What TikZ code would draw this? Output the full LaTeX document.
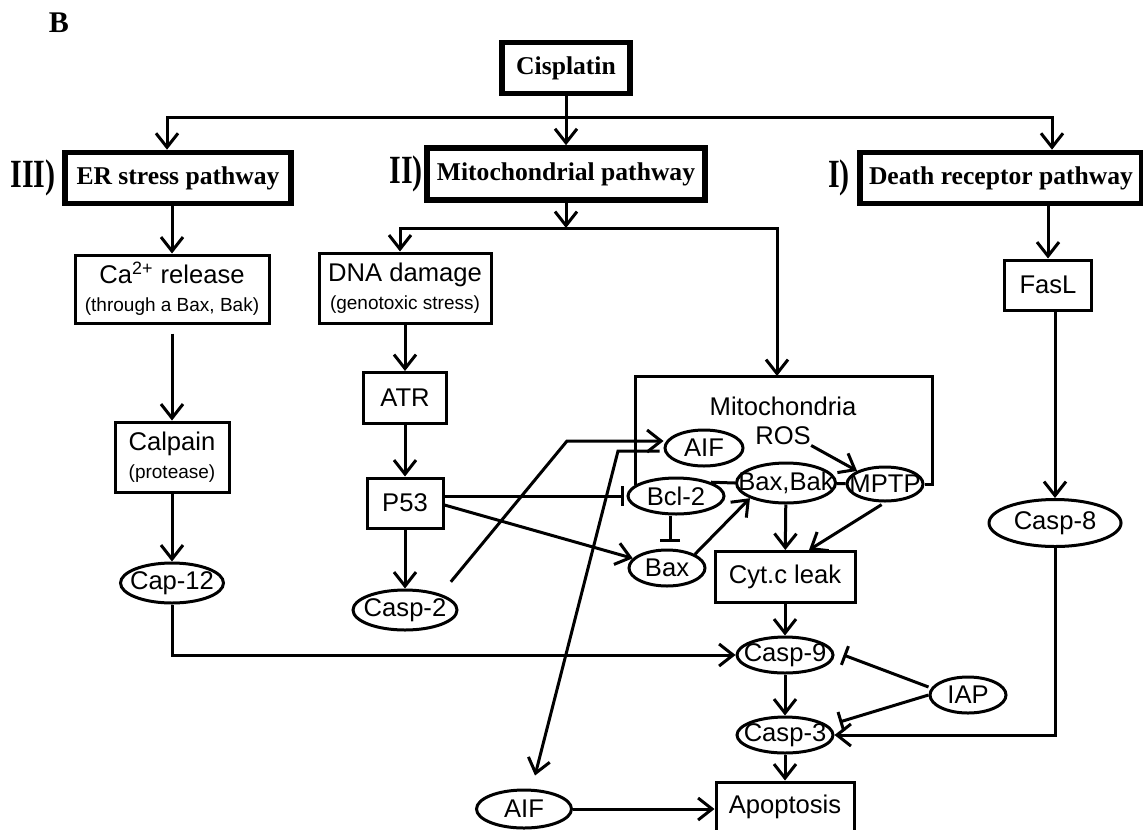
\documentclass[tikz,border=0pt]{standalone}
\usepackage{fontspec}
\setmainfont{Liberation Sans}
\newfontfamily\timesfont{Liberation Serif}
\usetikzlibrary{arrows.meta,shapes.geometric,calc}

\begin{document}
\begin{tikzpicture}[x=0.5pt, y=-0.5pt,
  box/.style={draw, line width=1.5pt, inner sep=0pt, align=center, font=\fontsize{12.8}{14}\selectfont},
  head/.style={draw, line width=2.8pt, inner sep=0pt, font=\timesfont\bfseries\fontsize{12.8}{14}\selectfont},
  oval/.style={draw, ellipse, line width=1.5pt, inner xsep=-14pt, inner ysep=-4pt, font=\fontsize{12.8}{14}\selectfont},
  lab/.style={font=\fontsize{12.8}{14}\selectfont},
  num/.style={font=\timesfont\bfseries\fontsize{20}{20}\selectfont},
  arr/.style={-{Straight Barb[length=7pt,width=11pt]}, line width=1.5pt},
  inh/.style={-{Bar[width=10pt]}, line width=1.5pt},
  line/.style={line width=1.5pt}
]
\useasboundingbox (0,0) rectangle (1143,829);
\node[font=\timesfont\bfseries\fontsize{15}{15}\selectfont] (panel) at (59,23) {B};
\node[head, minimum width=64pt, minimum height=25.5pt] (cis) at (566,68) {Cisplatin};
\node[head, minimum width=113pt, minimum height=25.5pt] (er) at (178,178) {ER stress pathway};
\node[head, minimum width=139pt, minimum height=26pt] (mito) at (566,174) {Mitochondrial pathway};
\node[head, minimum width=141pt, minimum height=25.5pt] (dr) at (1001,178) {Death receptor pathway};
\node[num] (n3) at (33,178) {\scalebox{0.75}[1]{III)}};
\node[num] (n2) at (406,174) {\scalebox{0.75}[1]{II)}};
\node[num] (n1) at (839,178) {\scalebox{0.75}[1]{I)}};
\coordinate (split) at (566,117);
\coordinate (fork) at (566,228);
\coordinate (mitoin) at (777,376);
\node[box, minimum width=97pt, minimum height=34pt] (ca) at (172,289) {Ca\textsuperscript{2+} release\\{\fontsize{9.5}{10}\selectfont (through a Bax, Bak)}};
\node[box, minimum width=86pt, minimum height=35pt] (dna) at (405,288) {DNA damage\\{\fontsize{9.5}{10}\selectfont (genotoxic stress)}};
\node[box, minimum width=43.5pt, minimum height=25pt] (fasl) at (1048,285) {FasL};
\node[box, minimum width=57pt, minimum height=35pt] (calp) at (172,457) {Calpain\\{\fontsize{9.5}{10}\selectfont (protease)}};
\node[box, minimum width=41.5pt, minimum height=25.5pt] (atr) at (405,398) {ATR};
\node[box, minimum width=38pt, minimum height=25pt] (p53) at (405,503) {P53};
\node[oval, minimum width=51.5pt, minimum height=20pt] (cap12) at (172,583) {Cap-12};
\node[oval, minimum width=52pt, minimum height=20pt] (casp2) at (405,610) {Casp-2};
\node[lab] (mitolab) at (783,406) {Mitochondria};
\node[lab, inner sep=0pt] (ros) at (783,436) {ROS};
\node[oval, minimum width=39pt, minimum height=18pt] (aif1) at (704,448) {AIF};
\node[oval, minimum width=48pt, minimum height=18pt] (bcl2) at (676,496) {Bcl-2};
\node[oval, minimum width=49.5pt, minimum height=20pt] (baxbak) at (786,483) {Bax,Bak};
\node[oval, minimum width=38pt, minimum height=17pt] (mptp) at (885,484) {MPTP};
\node[oval, minimum width=38pt, minimum height=18pt] (bax) at (667,568) {Bax};
\node[box, minimum width=70pt, minimum height=25.5pt] (cytc) at (785,577) {Cyt.c leak};
\node[oval, minimum width=48pt, minimum height=18pt] (casp9) at (785,655) {Casp-9};
\node[oval, minimum width=48pt, minimum height=18pt] (casp3) at (785,735) {Casp-3};
\node[oval, minimum width=38pt, minimum height=18pt] (iap) at (968,695) {IAP};
\node[oval, minimum width=66pt, minimum height=23.5pt] (casp8) at (1055,523) {Casp-8};
\node[box, minimum width=69pt, minimum height=25pt] (apop) at (785,807) {Apoptosis};
\node[oval, minimum width=47.5pt, minimum height=19pt] (aif2) at (524,809) {AIF};
\draw[line] (bcl2.164) |- (932,376) |- (mptp.east);
\draw[arr] (cis) -- (mito);
\draw[arr] (split) -| ([xshift=-5.5pt]er.north);
\draw[arr] (split) -| ([xshift=25.5pt]dr.north);
\draw[arr] (mito) -- (fork);
\draw[arr] (fork) -| ([xshift=-2.5pt]dna.north);
\draw[arr] (fork) -| (mitoin);
\draw[arr] (er.south -| ca) -- (ca);
\draw[arr] ([yshift=-4.5pt]ca.south) -- (calp);
\draw[arr] (calp) -- (cap12);
\draw[arr] (cap12) |- (casp9);
\draw[arr] (dna) -- (atr);
\draw[arr] (atr) -- (p53);
\draw[arr] (p53) -- (casp2);
\draw[inh, shorten >=1.5pt] (p53.east |- bcl2) -- (bcl2);
\draw[arr] ([yshift=-1pt]p53.east) -- (bax);
\draw[arr] (casp2.north east) ++(8,-13) -- (567,441) -- ([yshift=3.5pt]aif1.west);
\draw[arr] ([xshift=-2pt,yshift=-1.5pt]aif1.west) -- (618,451) -- ([xshift=5.5pt,yshift=6.5pt]aif2.north);
\draw[arr] (aif2) -- (aif2 -| apop.west);
\draw[arr] (ros.south east) -- (mptp.north west);
\draw[line] (bcl2.north east) -- (baxbak.west);
\draw[line] (baxbak) -- (mptp);
\draw[inh, shorten >=3.5pt] ([xshift=-3pt]bcl2.south) -- ([xshift=-3pt]bcl2.south |- bax.north);
\draw[arr] (bax.north east) -- (baxbak.south west);
\draw[arr] (baxbak) -- (cytc);
\draw[arr, shorten <=2pt] (mptp.south) -- ([xshift=12pt]cytc.north);
\draw[arr] (cytc) -- (casp9);
\draw[arr] (casp9) -- (casp3);
\draw[arr] (casp3) -- (apop);
\draw[inh] ([yshift=4pt]iap.west) -- ([xshift=4.5pt]casp9.east);
\draw[inh] (iap.west) -- ([xshift=2.5pt,yshift=6.5pt]casp3.east);
\draw[arr] (casp8) |- (casp3);
\draw[arr] (dr.south -| fasl) -- (fasl);
\draw[arr] (fasl.south -| casp8) -- (casp8);
\end{tikzpicture}
\end{document}
